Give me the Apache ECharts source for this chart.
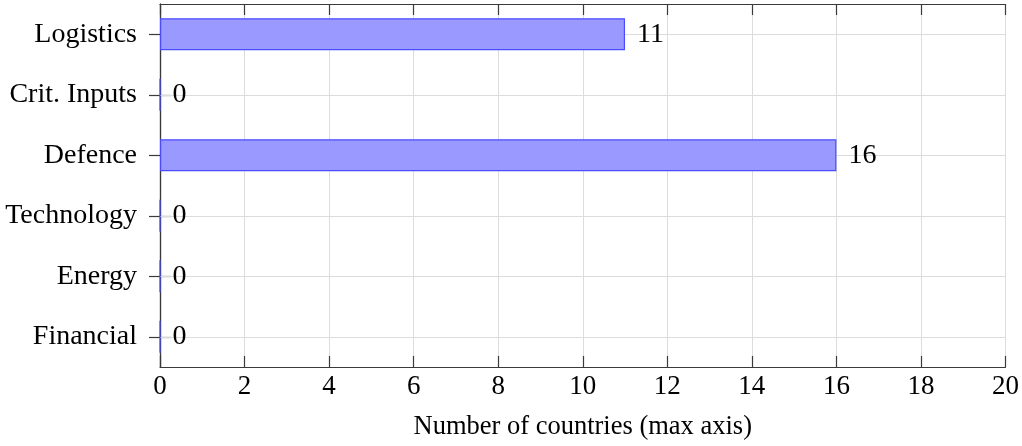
<!DOCTYPE html>
<html>
<head>
<meta charset="utf-8">
<script src="https://cdn.jsdelivr.net/npm/echarts@6/dist/echarts.min.js"></script>
<style>html,body{margin:0;padding:0;background:#fff}#c{width:1022px;height:446px}</style>
</head>
<body>
<div id="c"></div>
<script>
const categories = ["Logistics", "Crit. Inputs", "Defence", "Technology", "Energy", "Financial"];
const counts = [11, 0, 16, 0, 0, 0];
const xTicks = {min: 0, max: 20, interval: 2};
const xTitle = "Number of countries (max axis)";

const FONT = "'Liberation Serif', 'DejaVu Serif', serif";
const chart = echarts.init(document.getElementById('c'), null, {renderer: 'canvas'});
const axisLineStyle = {color: '#3a3a3a', width: 1.2};
chart.setOption({
  animation: false,
  grid: {left: 160, right: 13, top: 4, bottom: 77, containLabel: false},
  xAxis: [{
    type: 'value', position: 'bottom', min: xTicks.min, max: xTicks.max, interval: xTicks.interval,
    name: xTitle, nameLocation: 'middle', nameGap: 47,
    nameTextStyle: {fontFamily: FONT, fontSize: 26.5, color: '#000'},
    axisLine: {show: true, lineStyle: axisLineStyle},
    axisTick: {show: true, inside: true, length: 11, lineStyle: axisLineStyle},
    axisLabel: {fontFamily: FONT, fontSize: 27, color: '#000', margin: 6},
    splitLine: {show: true, lineStyle: {color: '#dcdcdc', width: 1}}
  }, {
    type: 'value', position: 'top', min: xTicks.min, max: xTicks.max, interval: xTicks.interval,
    axisLine: {show: true, lineStyle: axisLineStyle},
    axisTick: {show: true, inside: true, length: 11, lineStyle: axisLineStyle},
    axisLabel: {show: false},
    splitLine: {show: false}
  }],
  yAxis: [{
    type: 'category', data: categories, inverse: true, position: 'left',
    axisLine: {show: true, lineStyle: axisLineStyle},
    axisTick: {show: true, alignWithLabel: true, length: 11, lineStyle: axisLineStyle},
    axisLabel: {fontFamily: FONT, fontSize: 28, color: '#000', margin: 23},
    splitLine: {show: false}
  }, {
    type: 'category', data: categories, inverse: true, position: 'right',
    axisLine: {show: true, lineStyle: axisLineStyle},
    axisTick: {show: true, alignWithLabel: true, length: 11, lineStyle: axisLineStyle},
    axisLabel: {show: false},
    splitLine: {show: false}
  }],
  series: [{
    type: 'scatter', xAxisIndex: 0, yAxisIndex: 0, data: [], z: 1, silent: true,
    markLine: {
      z: 1, silent: true, symbol: ['none', 'none'], label: {show: false},
      lineStyle: {color: '#dcdcdc', width: 1, type: 'solid'},
      data: categories.map(c => ({yAxis: c}))
    }
  }, {
    type: 'bar', xAxisIndex: 0, yAxisIndex: 0, data: counts, z: 3,
    barWidth: 32,
    itemStyle: {color: '#9999ff', borderColor: '#4c4cff', borderWidth: 1.2},
    label: {show: true, position: 'right', distance: 12, fontFamily: FONT, fontSize: 28, color: '#000'}
  }]
});
</script>
</body>
</html>
